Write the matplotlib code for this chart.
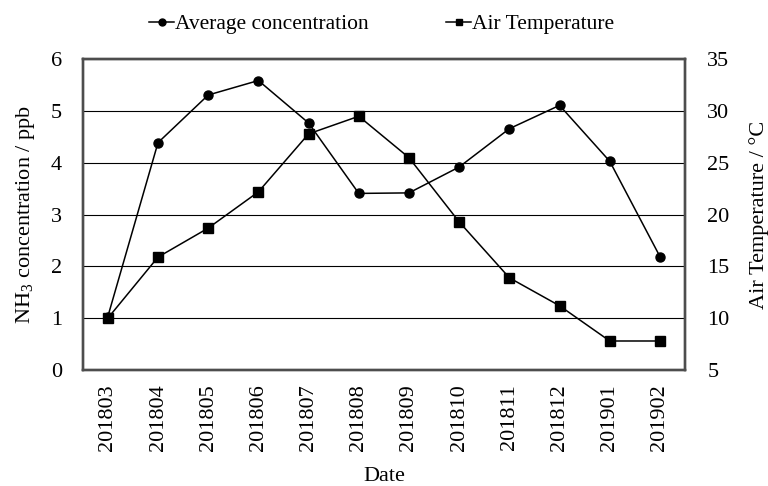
import matplotlib
matplotlib.use("Agg")
import matplotlib.pyplot as plt
from matplotlib.lines import Line2D

dates = ["201803", "201804", "201805", "201806", "201807", "201808",
         "201809", "201810", "201811", "201812", "201901", "201902"]
concentration = [1.03, 4.39, 5.31, 5.59, 4.77, 3.41, 3.42, 3.92, 4.66, 5.11, 4.03, 2.19]
temperature = [10.0, 15.9, 18.7, 22.2, 27.8, 29.5, 25.5, 19.3, 13.9, 11.2, 7.8, 7.8]

plt.rcParams['font.family'] = ['Liberation Serif', 'DejaVu Serif']
plt.rcParams['mathtext.fontset'] = 'custom'
plt.rcParams['mathtext.rm'] = 'Liberation Serif'
plt.rcParams['mathtext.it'] = 'Liberation Serif:italic'
plt.rcParams['mathtext.bf'] = 'Liberation Serif:bold'
FS = 16

fig = plt.figure(figsize=(7.68, 4.86), dpi=100)
ax = fig.add_axes([0.1077, 0.2387, 0.7843, 0.6393])
ax2 = ax.twinx()

x = list(range(len(dates)))
ax.plot(x, concentration, color='black', lw=1.1, marker='o', ms=6.5, zorder=3)
ax2.plot(x, temperature, color='black', lw=1.1, marker='s', ms=6.5, zorder=3)

ax.set_xlim(-0.5, len(dates) - 0.5)
ax.set_ylim(0, 6)
ax.set_yticks(range(0, 7))
ax2.set_ylim(5, 35)
ax2.set_yticks(range(5, 36, 5))

ax.set_xticks(x)
ax.set_xticklabels(dates, rotation=90, fontsize=FS)
ax.tick_params(axis='both', length=0, labelsize=FS)
ax.tick_params(axis='y', pad=15)
ax.tick_params(axis='x', pad=10)
ax2.tick_params(axis='y', length=0, labelsize=FS, pad=16)

ax.grid(axis='y', color='black', lw=0.8)
ax.set_axisbelow(True)

for a in (ax, ax2):
    for s in a.spines.values():
        s.set_color('#4d4d4d')
        s.set_linewidth(1.7)

ax.set_ylabel('NH$_\\mathrm{3}$ concentration / ppb', fontsize=FS, labelpad=10)
ax2.set_ylabel('Air Temperature / °C', fontsize=FS, labelpad=14)
ax.set_xlabel('Date', fontsize=FS, labelpad=12)

handles = [Line2D([], [], color='black', lw=1.1, marker='o', ms=5),
           Line2D([], [], color='black', lw=1.1, marker='s', ms=5)]
fig.legend(handles, ['Average concentration', 'Air Temperature'],
           loc='center', bbox_to_anchor=(0.497, 0.95), ncol=2, frameon=False,
           fontsize=15.5, handlelength=1.15, handletextpad=0.05, columnspacing=3.6)

fig.savefig('out.png', dpi=100)
